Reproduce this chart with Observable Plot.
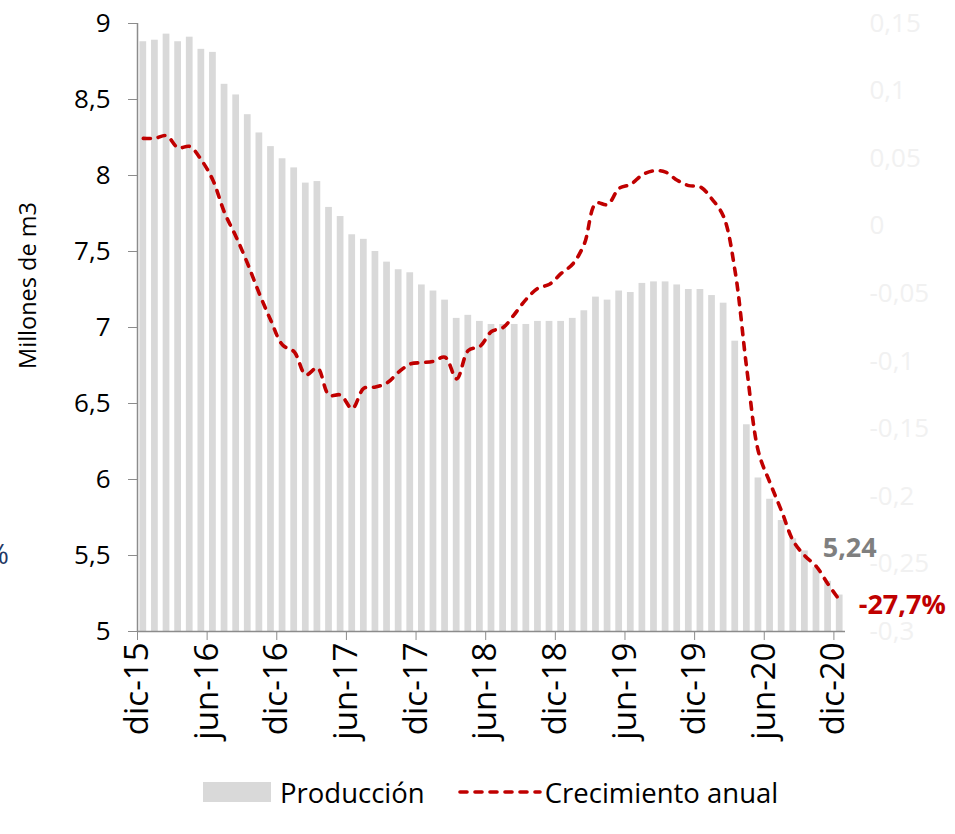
<!DOCTYPE html>
<html lang="es">
<head>
<meta charset="utf-8">
<script src="https://cdn.jsdelivr.net/npm/d3@7"></script>
<script src="https://cdn.jsdelivr.net/npm/@observablehq/plot@0.6"></script>
<style>
  html, body { margin: 0; padding: 0; background: #ffffff; }
  #chart { width: 955px; position: relative; font-family: "Open Sans", sans-serif; }
  .legend { display: flex; align-items: center; height: 64px; padding-left: 203px; font-size: 27.5px; color: #000; }
  .sw { width: 68px; height: 20px; background: #d9d9d9; margin-right: 9px; }
  .legend svg { margin-left: 33px; margin-right: 3px; }
</style>
</head>
<body>
<div id="chart"></div>
<script>
// ---- Data ----
const months = [
  "dic-15",
  "ene-16","feb-16","mar-16","abr-16","may-16","jun-16","jul-16","ago-16","sep-16","oct-16","nov-16","dic-16",
  "ene-17","feb-17","mar-17","abr-17","may-17","jun-17","jul-17","ago-17","sep-17","oct-17","nov-17","dic-17",
  "ene-18","feb-18","mar-18","abr-18","may-18","jun-18","jul-18","ago-18","sep-18","oct-18","nov-18","dic-18",
  "ene-19","feb-19","mar-19","abr-19","may-19","jun-19","jul-19","ago-19","sep-19","oct-19","nov-19","dic-19",
  "ene-20","feb-20","mar-20","abr-20","may-20","jun-20","jul-20","ago-20","sep-20","oct-20","nov-20","dic-20"
];
// Producción (millones de m3)
const produccion = [
  8.88,
  8.89, 8.93, 8.88, 8.91, 8.83, 8.81, 8.60, 8.53, 8.40, 8.28, 8.19, 8.11,
  8.05, 7.95, 7.96, 7.79, 7.73, 7.61, 7.58, 7.50, 7.43, 7.38, 7.36, 7.28,
  7.24, 7.18, 7.06, 7.08, 7.04, 7.02, 7.02, 7.02, 7.02, 7.04, 7.04, 7.04,
  7.06, 7.11, 7.20, 7.18, 7.24, 7.23, 7.29, 7.30, 7.30, 7.28, 7.25, 7.25,
  7.21, 7.16, 6.91, 6.36, 6.01, 5.87, 5.73, 5.61, 5.53, 5.42, 5.33, 5.24
];
// Crecimiento anual (fracción)
const crecimiento = [
  0.065,
  0.065, 0.067, 0.058, 0.059, 0.049, 0.034, 0.010, -0.008, -0.028, -0.050, -0.070, -0.088,
  -0.093, -0.110, -0.105, -0.125, -0.125, -0.135, -0.120, -0.119, -0.116, -0.108, -0.102, -0.101,
  -0.100, -0.097, -0.113, -0.092, -0.089, -0.078, -0.075, -0.065, -0.054, -0.046, -0.043, -0.035,
  -0.028, -0.013, 0.017, 0.016, 0.028, 0.031, 0.038, 0.041, 0.040, 0.034, 0.030, 0.029,
  0.020, 0.007, -0.034, -0.106, -0.167, -0.190, -0.211, -0.233, -0.244, -0.252, -0.265, -0.277
];
const xTicks = ["dic-15","jun-16","dic-16","jun-17","dic-17","jun-18","dic-18","jun-19","dic-19","jun-20","dic-20"];
const leftTicks = [5, 5.5, 6, 6.5, 7, 7.5, 8, 8.5, 9];
const leftTickLabels = ["5", "5,5", "6", "6,5", "7", "7,5", "8", "8,5", "9"];
const rightTicks = [-0.3, -0.25, -0.2, -0.15, -0.1, -0.05, 0, 0.05, 0.1, 0.15];
const rightTickLabels = ["-0,3", "-0,25", "-0,2", "-0,15", "-0,1", "-0,05", "0", "0,05", "0,1", "0,15"];
const leftDomain = [5, 9];
const rightDomain = [-0.3, 0.15];
const lastProdLabel = "5,24";
const lastGrowthLabel = "-27,7%";
const yTitle = "Millones de m3";
const seriesNames = ["Producción", "Crecimiento anual"];

// ---- Layout ----
const W = 955, H = 760;
const mL = 137, mR = 110, mT = 23, mB = 129;
const step = (W - mL - mR) / months.length;

// map growth onto left scale (secondary axis)
const toLeft = g => leftDomain[0] + (g - rightDomain[0]) * (leftDomain[1] - leftDomain[0]) / (rightDomain[1] - rightDomain[0]);
const rightPos = rightTicks.map(toLeft);

const prodData = months.map((m, i) => ({mes: m, valor: produccion[i]}));
const growthData = months.map((m, i) => ({mes: m, g: crecimiento[i]}));
const last = months.length - 1;

const plot = Plot.plot({
  width: W, height: H,
  marginLeft: mL, marginRight: mR, marginTop: mT, marginBottom: mB,
  style: {fontFamily: "'Open Sans', sans-serif", fontSize: "26px", color: "#000", background: "#fff", overflow: "visible"},
  x: {type: "band", domain: months, paddingInner: 0.42, paddingOuter: 0.21, axis: null},
  y: {domain: leftDomain, axis: null},
  marks: [
    Plot.barY(prodData, {x: "mes", y1: leftDomain[0], y2: "valor", fill: "#d9d9d9"}),
    Plot.lineY(growthData, {x: "mes", y: d => toLeft(d.g), stroke: "#c00000", strokeWidth: 3.6,
      strokeDasharray: "7,8", strokeLinecap: "round", curve: "catmull-rom"}),
    Plot.ruleY([leftDomain[0]], {stroke: "#8c8c8c", strokeWidth: 1.5}),
    Plot.ruleX([months[0]], {y1: leftDomain[0], y2: leftDomain[1], dx: -step / 2, stroke: "#8c8c8c", strokeWidth: 1.5}),
    Plot.axisY({ticks: leftTicks, tickFormat: d => leftTickLabels[leftTicks.indexOf(d)],
      tickSize: 9, tickPadding: 18, stroke: "#8c8c8c", fill: "#000", fontSize: 26, label: null}),
    Plot.axisY({anchor: "right", ticks: rightPos,
      tickFormat: d => rightTickLabels[rightPos.indexOf(d)],
      tickSize: 0, tickPadding: 24, fill: "#f1f1f1", fontSize: 26, label: null}),
    Plot.axisX({ticks: xTicks, tickFormat: d => d, tickRotate: -90, tickSize: 9, tickPadding: 2,
      dx: -step / 2, stroke: "#8c8c8c", fill: "#000", fontSize: 33, label: null}),
    Plot.text([yTitle], {frameAnchor: "left", textAnchor: "middle", lineAnchor: "middle", dx: -109, dy: -42,
      rotate: -90, fontSize: 23.5, fill: "#000"}),
    Plot.text([prodData[last]], {x: "mes", y: "valor", text: () => lastProdLabel, dx: 10, dy: -47,
      fontWeight: "bold", fontSize: 27, fill: "#7f7f7f"}),
    Plot.text([growthData[last]], {x: "mes", y: d => toLeft(d.g), text: () => lastGrowthLabel, dx: 19, dy: 5,
      textAnchor: "start", fontWeight: "bold", fontSize: 27, fill: "#c00000"})
  ]
});

// partial glyph from neighbouring panel at the left edge
d3.select(plot).append("text")
  .attr("x", 9).attr("y", 557).attr("text-anchor", "end").attr("dominant-baseline", "middle")
  .attr("font-size", 28).attr("fill", "#1f3864").text("%");

const chart = document.getElementById("chart");
chart.appendChild(plot);

const legend = document.createElement("div");
legend.className = "legend";
legend.innerHTML =
  `<div class="sw"></div><span>${seriesNames[0]}</span>` +
  `<svg width="84" height="10"><line x1="2" y1="5" x2="82" y2="5" stroke="#c00000" stroke-width="3.6" stroke-dasharray="7,8" stroke-linecap="round"/></svg>` +
  `<span>${seriesNames[1]}</span>`;
chart.appendChild(legend);
</script>
</body>
</html>
